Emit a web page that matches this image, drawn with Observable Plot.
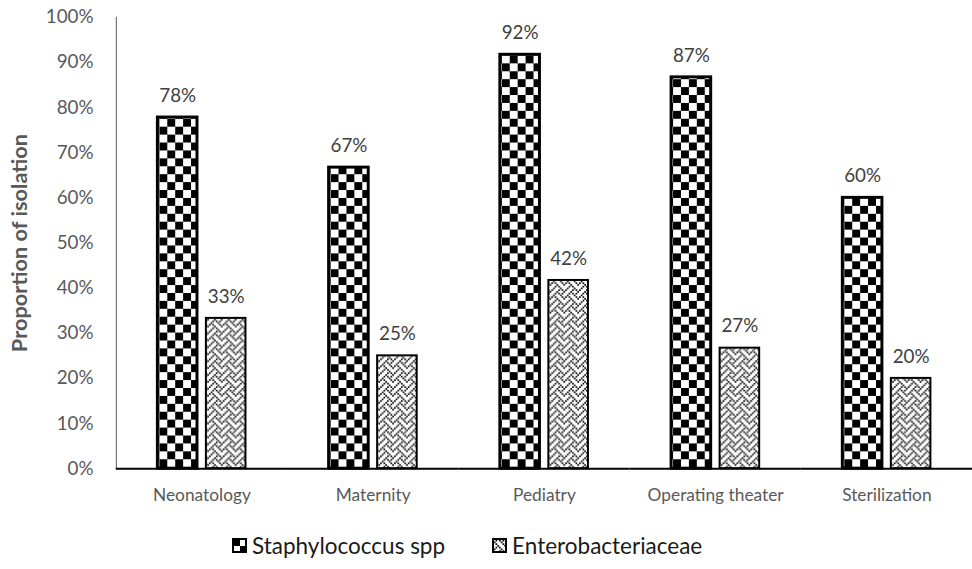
<!DOCTYPE html>
<html><head><meta charset="utf-8">
<script src="https://cdn.jsdelivr.net/npm/d3@7"></script>
<script src="https://cdn.jsdelivr.net/npm/@observablehq/plot@0.6"></script>
<style>
html,body{margin:0;padding:0;background:#fff;overflow:hidden;}
body{font-family:Lato,"Open Sans",sans-serif;}
#chart svg{font-family:Lato,"Open Sans",sans-serif;font-size:17.5px;color:#595959;overflow:visible;}
#chart svg [aria-label="y-axis tick label"] text{font-size:19px;}
#chart svg [aria-label="y-axis label"] text, #chart svg [aria-label="y-axis label"]{font-weight:700;font-size:22px;}
#legend{display:flex;align-items:center;height:46px;padding-left:232px;font-size:22.5px;color:#1a1a1a;}
#legend .item{display:flex;align-items:center;margin-right:47px;}
#legend svg{margin-right:5px;}
</style></head>
<body>
<svg width="0" height="0" style="position:absolute"><defs id="pats"></defs></svg>
<div id="chart"></div>
<div id="legend"></div>
<script>
const categories = ["Neonatology", "Maternity", "Pediatry", "Operating theater", "Sterilization"];
const seriesNames = ["Staphylococcus spp", "Enterobacteriaceae"];
const staphValues = [0.778, 0.667, 0.917, 0.867, 0.600];
const enteroValues = [0.333, 0.250, 0.417, 0.267, 0.200];
const yTicks = [0, 0.1, 0.2, 0.3, 0.4, 0.5, 0.6, 0.7, 0.8, 0.9, 1.0];
const yTitle = "Proportion of isolation";

// patterns
const defs = d3.select("#pats");
const ps = defs.append("pattern").attr("id", "pat-staph").attr("patternUnits", "userSpaceOnUse").attr("width", 16).attr("height", 16);
ps.append("rect").attr("width", 16).attr("height", 16).attr("fill", "#fff");
ps.append("rect").attr("width", 8).attr("height", 8).attr("fill", "#000");
ps.append("rect").attr("x", 8).attr("y", 8).attr("width", 8).attr("height", 8).attr("fill", "#000");
const weave = [0x11, 0x2a, 0x44, 0xa2, 0x11, 0x28, 0x44, 0x8a];
const px = 1.75;
const pe = defs.append("pattern").attr("id", "pat-entero").attr("patternUnits", "userSpaceOnUse").attr("width", 8 * px).attr("height", 8 * px);
pe.append("rect").attr("width", 8 * px).attr("height", 8 * px).attr("fill", "#fff");
weave.forEach((row, r) => {
  for (let b = 0; b < 8; b++) {
    if (row & (0x80 >> b)) pe.append("rect").attr("x", b * px).attr("y", r * px).attr("width", px).attr("height", px).attr("fill", "#111");
  }
});
const patternFill = ["url(#pat-staph)", "url(#pat-entero)"];
const strokeWidths = [3, 2];

const table = categories.flatMap((c, i) => [
  {category: c, series: seriesNames[0], value: staphValues[i]},
  {category: c, series: seriesNames[1], value: enteroValues[i]}
]);
const fmt = d3.format(".0%");

const chart = Plot.plot({
  width: 982,
  height: 528,
  marginLeft: 116,
  marginRight: 0,
  marginTop: 17,
  marginBottom: 55,
  fx: {domain: categories, padding: 0, label: null, tickSize: 0, tickPadding: 20, axis: "bottom"},
  x: {domain: seriesNames, axis: null, paddingInner: 0.18, paddingOuter: 0.8225},
  y: {domain: [0, 1], ticks: yTicks, tickFormat: fmt, tickSize: 0, tickPadding: 23, line: true,
      label: yTitle, labelAnchor: "center", labelOffset: 106, labelArrow: false},
  color: {domain: seriesNames, range: patternFill},
  marks: [
    Plot.barY(table.filter(d => d.series === seriesNames[1]), {fx: "category", x: "series", y: "value", fill: "series", stroke: "#000", strokeWidth: strokeWidths[1]}),
    Plot.barY(table.filter(d => d.series === seriesNames[0]), {fx: "category", x: "series", y: "value", fill: "series", stroke: "#000", strokeWidth: strokeWidths[0]}),
    Plot.ruleY([0], {stroke: "#000", strokeWidth: 2}),
    Plot.text(table, {fx: "category", x: "series", y: "value", text: d => fmt(d.value), dy: -22, fill: "#404040", fontSize: 19, lineAnchor: "middle"})
  ]
});
// strip any arrow from the y label
d3.select(chart).selectAll('[aria-label="y-axis label"] text, [aria-label="y-axis label"] tspan').each(function () {
  if (this.childElementCount === 0 && /[↑↓]/.test(this.textContent)) this.textContent = this.textContent.replace(/\s*[↑↓]\s*/g, "");
});
document.getElementById("chart").appendChild(chart);

// legend
const legend = d3.select("#legend");
seriesNames.forEach((s, i) => {
  const item = legend.append("div").attr("class", "item");
  const sv = item.append("svg").attr("width", 15).attr("height", 15);
  sv.append("rect").attr("x", 1).attr("y", 1).attr("width", 13).attr("height", 13).attr("fill", patternFill[i]).attr("stroke", "#000").attr("stroke-width", 2);
  item.append("span").text(s);
});
</script>
</body></html>
